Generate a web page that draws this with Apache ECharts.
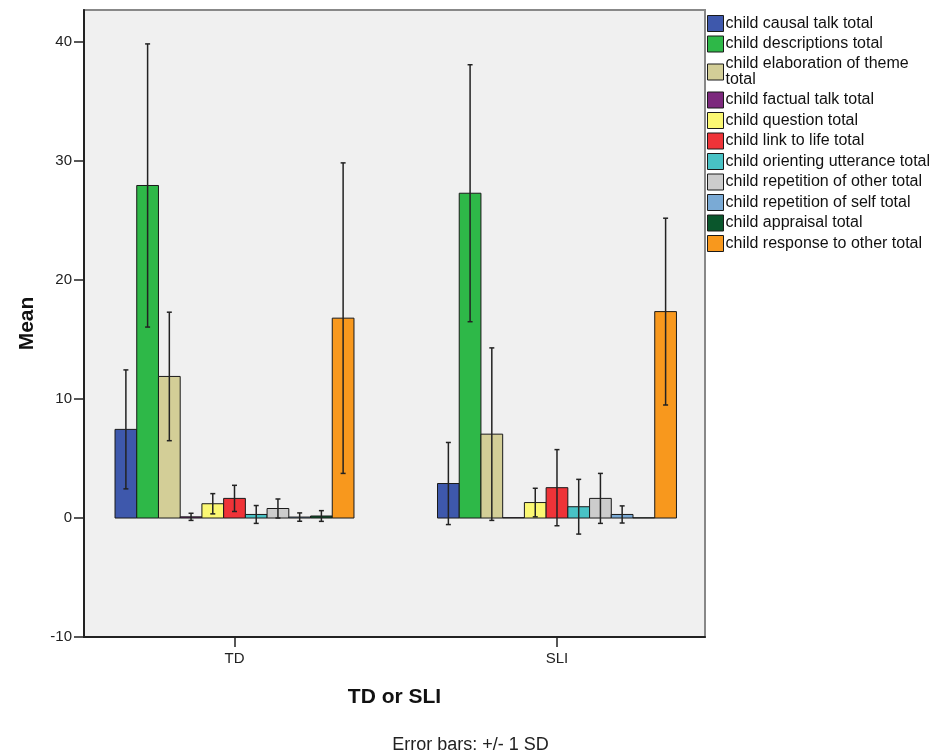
<!DOCTYPE html>
<html>
<head>
<meta charset="utf-8">
<script src="https://cdn.jsdelivr.net/npm/echarts@6/dist/echarts.min.js"></script>
<style>html,body{margin:0;padding:0;background:#fff;}#c{width:941px;height:756px;}</style>
</head>
<body>
<div id="c"></div>
<script>
const groups = ['TD', 'SLI'];
const seriesNames = [
  'child causal talk total',
  'child descriptions total',
  'child elaboration of theme total',
  'child factual talk total',
  'child question total',
  'child link to life total',
  'child orienting utterance total',
  'child repetition of other total',
  'child repetition of self total',
  'child appraisal total',
  'child response to other total'
];
const tdMean  = [7.45, 27.95, 11.9, 0.1, 1.2, 1.65, 0.3, 0.8, 0.08, 0.17, 16.8];
const tdSD    = [5.0, 11.9, 5.4, 0.3, 0.85, 1.1, 0.75, 0.8, 0.35, 0.45, 13.05];
const sliMean = [2.9, 27.3, 7.05, 0.03, 1.3, 2.55, 0.95, 1.65, 0.3, 0.02, 17.35];
const sliSD   = [3.45, 10.8, 7.25, 0, 1.2, 3.2, 2.3, 2.1, 0.72, 0, 7.85];
const yTicks = [-10, 0, 10, 20, 30, 40];

const colors = ['#3E58AC', '#2EB848', '#D3CE97', '#7C287D', '#FBF873', '#EF3338',
                '#48C2C5', '#CCCCCC', '#7AAAD5', '#0A562C', '#F8981D'];

const FONT = "'Liberation Sans', Arial, sans-serif";
const GROUP_WIDTH = 0.741; // fraction of category spacing occupied by the cluster
const nS = seriesNames.length;

const chart = echarts.init(document.getElementById('c'), null, {renderer: 'canvas'});

const series = seriesNames.map((name, i) => ({
  type: 'custom',
  name: name,
  coordinateSystem: 'cartesian2d',
  itemStyle: {color: colors[i], borderColor: '#1a1a1a', borderWidth: 1},
  data: [[0, tdMean[i], tdSD[i]], [1, sliMean[i], sliSD[i]]],
  encode: {x: 0, y: 1},
  renderItem: function (params, api) {
    const x = api.value(0), m = api.value(1), sd = api.value(2);
    const unit = api.size([1, 0])[0];
    const bw = unit * GROUP_WIDTH / nS;
    const base = api.coord([x, 0]);
    const top = api.coord([x, m]);
    const cx = base[0] + (i - (nS - 1) / 2) * bw;
    const children = [{
      type: 'rect',
      shape: {x: cx - bw / 2, y: Math.min(top[1], base[1]), width: bw, height: Math.abs(base[1] - top[1])},
      style: {fill: colors[i], stroke: '#1a1a1a', lineWidth: 1}
    }];
    if (sd > 0) {
      const hi = api.coord([x, m + sd])[1];
      const lo = api.coord([x, m - sd])[1];
      const cap = 2.5;
      children.push(
        {type: 'line', shape: {x1: cx, y1: hi, x2: cx, y2: lo}, style: {stroke: '#222', lineWidth: 1.5}},
        {type: 'line', shape: {x1: cx - cap, y1: hi, x2: cx + cap, y2: hi}, style: {stroke: '#222', lineWidth: 1.5}},
        {type: 'line', shape: {x1: cx - cap, y1: lo, x2: cx + cap, y2: lo}, style: {stroke: '#222', lineWidth: 1.5}}
      );
    }
    return {type: 'group', children: children};
  }
}));

const option = {
  backgroundColor: '#ffffff',
  animation: false,
  textStyle: {fontFamily: FONT},
  title: {
    text: 'Error bars: +/- 1 SD',
    left: 'center',
    top: 731,
    textStyle: {fontFamily: FONT, fontSize: 18, fontWeight: 'normal', color: '#222'}
  },
  legend: {
    orient: 'vertical',
    left: 702,
    top: 10,
    itemWidth: 16,
    itemHeight: 16,
    itemGap: 3.5,
    icon: 'rect',
    data: seriesNames.map((n, i) => ({name: n, itemStyle: {color: colors[i], borderColor: '#1a1a1a', borderWidth: 1}})),
    textStyle: {fontFamily: FONT, fontSize: 16, color: '#111', width: 212, overflow: 'break', lineHeight: 16, padding: [0, 0, 0, -3]}
  },
  grid: {
    left: 84, right: 236, top: 10, bottom: 119,
    show: true,
    backgroundColor: '#F0F0F0',
    borderColor: '#888',
    borderWidth: 2
  },
  xAxis: {
    type: 'value',
    min: -0.4667,
    max: 1.459,
    name: 'TD or SLI',
    nameLocation: 'middle',
    nameGap: 50,
    nameTextStyle: {fontFamily: FONT, fontSize: 21, fontWeight: 'bold', color: '#111'},
    axisLine: {show: true, onZero: false, lineStyle: {color: '#222', width: 2}},
    axisTick: {show: true, length: 10, customValues: [0, 1], lineStyle: {color: '#222', width: 1.5}},
    axisLabel: {customValues: [0, 1], formatter: v => groups[Math.round(v)], fontFamily: FONT, fontSize: 15, color: '#222', margin: 14},
    splitLine: {show: false}
  },
  yAxis: {
    type: 'value',
    min: -10,
    max: 42.7,
    interval: 10,
    name: 'Mean',
    nameLocation: 'middle',
    nameGap: 46,
    nameRotate: 90,
    nameTextStyle: {fontFamily: FONT, fontSize: 21, fontWeight: 'bold', color: '#111'},
    axisLine: {show: true, onZero: false, lineStyle: {color: '#222', width: 2}},
    axisTick: {show: true, length: 10, customValues: yTicks, lineStyle: {color: '#222', width: 1.5}},
    axisLabel: {customValues: yTicks, fontFamily: FONT, fontSize: 15, color: '#222', margin: 12},
    splitLine: {show: false}
  },
  series: series
};
chart.setOption(option);
</script>
</body>
</html>
